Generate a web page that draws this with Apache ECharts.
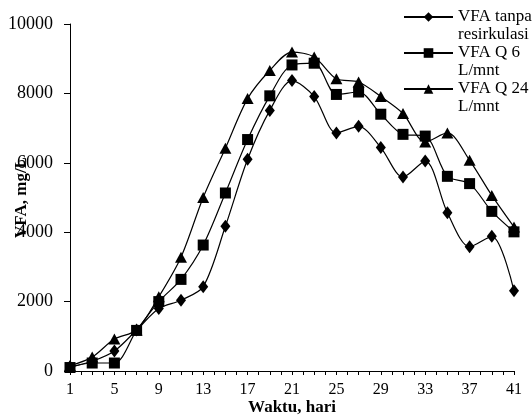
<!DOCTYPE html>
<html>
<head>
<meta charset="utf-8">
<script src="https://cdn.jsdelivr.net/npm/echarts@6/dist/echarts.min.js"></script>
<style>
  html, body { margin: 0; padding: 0; background: #fff; }
  #chart { width: 532px; height: 416px; }
</style>
</head>
<body>
<div id="chart"></div>
<script>
  // hari pengamatan (sumbu x) dan titik data
  var allDays = []
  for (var d = 1; d <= 41; d++) allDays.push(String(d))
  var days = [1, 3, 5, 7, 9, 11, 13, 15, 17, 19, 21, 23, 25, 27, 29, 31, 33, 35, 37, 39, 41]

  var vfaTanpa = [120, 280, 575, 1180, 1800, 2040, 2430, 4170, 6100, 7510, 8370, 7910, 6860, 7050, 6440, 5590, 6050, 4560, 3580, 3880, 2310]
  var vfaQ6 = [100, 230, 230, 1170, 2000, 2640, 3630, 5130, 6670, 7930, 8820, 8870, 7970, 8040, 7400, 6820, 6770, 5610, 5400, 4600, 4010]
  var vfaQ24 = [150, 400, 920, 1180, 2140, 3280, 5000, 6420, 7850, 8660, 9190, 9050, 8420, 8330, 7910, 7420, 6600, 6860, 6070, 5060, 4150]

  var seriesNames = ['VFA tanpa\nresirkulasi', 'VFA Q 6\nL/mnt', 'VFA Q 24\nL/mnt']
  var yTicks = [0, 2000, 4000, 6000, 8000, 10000]

  var font = 'Liberation Serif'

  function pairs (vals) {
    return days.map(function (d, i) { return [String(d), vals[i]] })
  }

  function mkSeries (name, vals, symbol, size) {
    return {
      name: name,
      type: 'line',
      smooth: 0.3,
      data: pairs(vals),
      symbol: symbol,
      symbolSize: size,
      showAllSymbol: true,
      itemStyle: { color: '#000' },
      lineStyle: { color: '#000', width: 1.2 }
    }
  }

  var option = {
    animation: false,
    backgroundColor: '#fff',
    legend: {
      orient: 'vertical',
      left: 403,
      top: -10,
      padding: 0,
      itemGap: -18,
      itemWidth: 49,
      itemHeight: 12,
      data: seriesNames,
      // baris kosong di atas supaya ikon sejajar dengan baris pertama
      formatter: function (name) { return '\u00a0\n' + name },
      textStyle: {
        fontFamily: font,
        fontSize: 17,
        color: '#000',
        lineHeight: 18
      }
    },
    grid: { left: 70, right: 18, top: 24, bottom: 45, outerBoundsMode: 'none', containLabel: false },
    xAxis: {
      type: 'category',
      data: allDays,
      boundaryGap: false,
      name: 'Waktu, hari',
      nameLocation: 'middle',
      nameGap: 28,
      nameMoveOverlap: false,
      nameTextStyle: { fontFamily: font, fontSize: 17, fontWeight: 'bold', color: '#000' },
      axisLine: { lineStyle: { color: '#000', width: 1 } },
      axisTick: { interval: 0, length: 4, lineStyle: { color: '#000' } },
      axisLabel: { interval: 3, margin: 11, fontFamily: font, fontSize: 16, color: '#000' },
      splitLine: { show: false }
    },
    yAxis: {
      type: 'value',
      min: yTicks[0],
      max: yTicks[yTicks.length - 1],
      interval: 2000,
      name: 'VFA, mg/L',
      nameLocation: 'middle',
      nameGap: 40,
      nameMoveOverlap: false,
      nameTextStyle: { fontFamily: font, fontSize: 17, fontWeight: 'bold', color: '#000' },
      axisLine: { show: true, lineStyle: { color: '#000', width: 1 } },
      axisTick: { show: true, length: 6, lineStyle: { color: '#000' } },
      axisLabel: {
        margin: 17,
        fontFamily: font,
        fontSize: 18,
        color: '#000',
        formatter: function (v) { return String(v) }
      },
      splitLine: { show: false }
    },
    series: [
      mkSeries(seriesNames[0], vfaTanpa, 'diamond', [10, 13]),
      mkSeries(seriesNames[1], vfaQ6, 'rect', 11),
      mkSeries(seriesNames[2], vfaQ24, 'triangle', [12, 11])
    ]
  }

  var chart = echarts.init(document.getElementById('chart'))
  chart.setOption(option)
</script>
</body>
</html>
